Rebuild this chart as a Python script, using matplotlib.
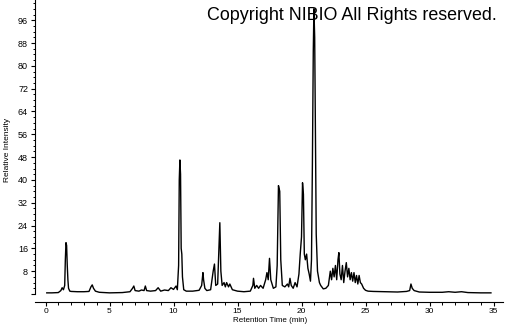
import matplotlib
matplotlib.use("Agg")
import matplotlib.pyplot as plt
from matplotlib.ticker import MultipleLocator

# Retention time (min) and relative intensity
time = [
    0.1, 0.5, 1.0, 1.2, 1.3, 1.4, 1.5, 1.55, 1.6, 1.65, 1.7, 1.75, 1.8, 1.9,
    2.0, 2.5, 3.0, 3.4, 3.55, 3.65, 3.75, 3.9, 4.2, 5.0, 6.0, 6.6, 6.8, 6.9,
    7.0, 7.3, 7.5, 7.7, 7.8, 7.9, 8.2, 8.6, 8.8, 9.0, 9.3, 9.6, 9.8, 10.0,
    10.2, 10.3, 10.4, 10.45, 10.5, 10.55, 10.6, 10.65, 10.7, 10.8, 11.0, 11.5,
    12.0, 12.2, 12.3, 12.35, 12.45, 12.6, 12.9, 13.1, 13.2, 13.3, 13.45, 13.55,
    13.62, 13.7, 13.8, 13.95, 14.05, 14.15, 14.3, 14.4, 14.6, 15.0, 15.5, 16.0,
    16.2, 16.25, 16.35, 16.5, 16.65, 16.8, 17.0, 17.2, 17.3, 17.4, 17.5, 17.6,
    17.8, 18.0, 18.1, 18.2, 18.3, 18.38, 18.5, 18.7, 18.9, 19.0, 19.1, 19.2,
    19.35, 19.5, 19.65, 19.8, 19.9, 20.0, 20.08, 20.15, 20.22, 20.3, 20.4, 20.5,
    20.6, 20.7, 20.78, 20.85, 20.92, 20.97, 21.03, 21.1, 21.15, 21.25, 21.4,
    21.5, 21.7, 21.9, 22.1, 22.25, 22.35, 22.45, 22.55, 22.65, 22.75, 22.85,
    22.92, 23.0, 23.1, 23.2, 23.3, 23.4, 23.5, 23.6, 23.7, 23.8, 23.9, 24.0,
    24.1, 24.2, 24.3, 24.4, 24.5, 24.6, 24.7, 24.85, 25.0, 25.2, 25.6, 26.5,
    27.5, 28.2, 28.45, 28.55, 28.65, 28.8, 29.2, 30.0, 31.0, 31.5, 32.0, 32.5,
    33.0, 34.0, 34.8,
]
intensity = [
    0.4, 0.4, 0.5, 1.2, 2.2, 1.5, 3.0, 12, 18, 17, 10, 5, 2, 1.0,
    0.9, 0.8, 0.8, 0.9, 2.5, 3.2, 2.0, 1.0, 0.6, 0.4, 0.5, 0.8, 2.0, 2.8,
    1.2, 1.0, 1.4, 1.2, 2.8, 1.2, 1.0, 1.2, 2.2, 1.0, 1.4, 1.2, 2.2, 1.6,
    2.8, 1.5, 10, 40, 47, 42, 16, 14, 6, 1.5, 1.0, 1.0,
    1.3, 3, 7.5, 5, 2, 1.2, 1.5, 8, 10.5, 3, 3.5, 16,
    25, 8, 3, 4, 2.5, 4, 2.5, 3.5, 1.5, 1.0, 0.8, 1.0,
    3, 5.5, 2, 3, 2, 3, 2, 5, 7.5, 5, 12.5, 5,
    2, 2.5, 10, 38, 36, 12, 3, 2.5, 3.5, 2.5, 5.5, 3,
    2, 4, 2.5, 7, 14, 20, 39, 35, 14, 12, 14, 9,
    7, 4.5, 12, 45, 85, 100, 90, 50, 21, 8, 4,
    3, 1.8, 2, 3, 8, 5, 9, 6, 10, 5, 12,
    14.5, 7, 5, 10, 4, 8, 11, 6, 9, 5, 7.5, 4.5,
    7.5, 4, 6.5, 3.5, 6.5, 4, 3.5, 2, 1.3, 1.0, 0.9, 0.8,
    0.7, 0.9, 1.2, 3.5, 2, 1.2, 0.7, 0.6, 0.6, 0.8, 0.6, 0.8,
    0.5, 0.4, 0.4,
]

x_ticks = [0, 5, 10, 15, 20, 25, 30, 35]
y_ticks = [0, 8, 16, 24, 32, 40, 48, 56, 64, 72, 80, 88, 96]
y_labels = [""] + [str(v) for v in y_ticks[1:]]

W, H = 505, 325
fig = plt.figure(figsize=(W / 100, H / 100), dpi=100)
ax = fig.add_axes([35 / W, (H - 294) / H, 468 / W, 294 / H])

ax.plot(time, intensity, color="black", linewidth=1.0)

ax.set_xlim((35 - 45.5) / 12.8, (503 - 45.5) / 12.8)
ax.set_ylim(0, 294 / 2.852)

for s in ["top", "right"]:
    ax.spines[s].set_visible(False)
ax.spines["bottom"].set_position(("outward", 5.8))
ax.spines["left"].set_linewidth(0.8)
ax.spines["bottom"].set_linewidth(0.8)

fam = ["Liberation Sans Narrow", "Liberation Sans", "DejaVu Sans"]
ax.set_xticks(x_ticks)
ax.set_xticklabels([str(v) for v in x_ticks], fontsize=6, family=fam)
ax.xaxis.set_minor_locator(MultipleLocator(1))
ax.set_yticks(y_ticks)
ax.set_yticklabels(y_labels, fontsize=6.5, family=fam)
ax.yaxis.set_minor_locator(MultipleLocator(2))
ax.tick_params(axis="both", which="major", length=3, width=0.8, pad=2)
ax.tick_params(axis="x", which="major", pad=1.2)
ax.tick_params(axis="both", which="minor", length=1.8, width=0.7)

fig.text(8 / W, 1 - 150 / H, "Relative Intensity", rotation=90, ha="center",
         va="center", fontsize=6, family=fam)
fig.text(270 / W, 1 - 321 / H, "Retention Time (min)", ha="center",
         va="center", fontsize=5.8, family=fam)
fig.text(497 / W, 1 - 20 / H, "Copyright NIBIO All Rights reserved.",
         ha="right", va="baseline", fontsize=12.9,
         family=["Liberation Sans", "DejaVu Sans"])

fig.savefig("out.png", dpi=100)
